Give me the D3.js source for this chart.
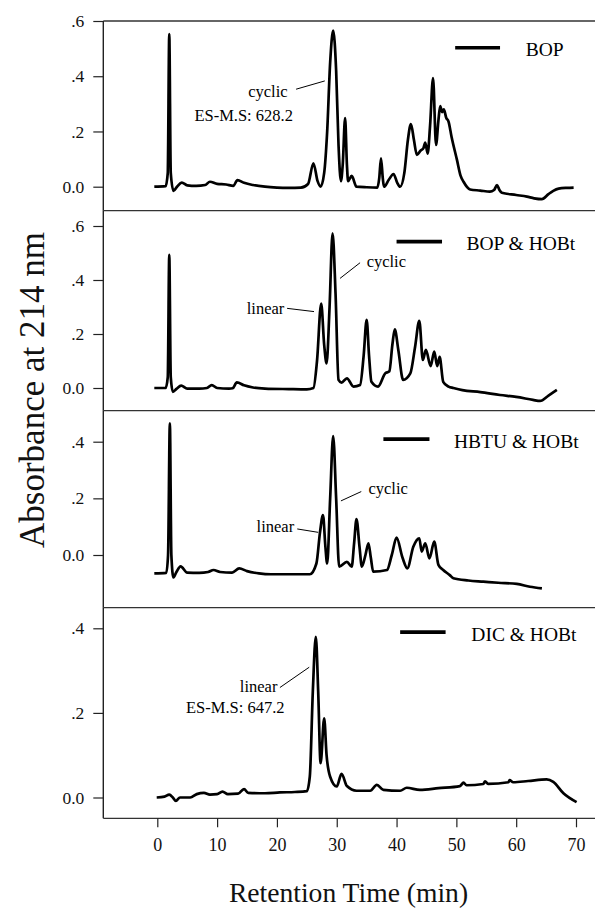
<!DOCTYPE html>
<html>
<head>
<meta charset="utf-8">
<script src="https://cdn.jsdelivr.net/npm/d3@7"></script>
<style>
  body { margin: 0; background: #fff; }
  svg text { font-family: "Liberation Serif", "Times New Roman", serif; }
</style>
</head>
<body>
<div id="chart"></div>
<script>
var svgWidth = 595;
var svgHeight = 908;

// Retention time ticks (min)
var timeTicks = [0, 10, 20, 30, 40, 50, 60, 70];

// Legend names, one per panel
var panelNames = ["BOP", "BOP & HOBt", "HBTU & HOBt", "DIC & HOBt"];

// Absorbance ticks per panel
var absTicks = [
    [0, 0.2, 0.4, 0.6],
    [0, 0.2, 0.4, 0.6],
    [0, 0.2, 0.4],
    [0, 0.2, 0.4]
];

// Traces: [time (min), absorbance]
var bopTrace = [
    [-0.5, 0], [1.4, 0.002], [1.75, 0.05], [2.0, 0.553], [2.25, 0.05], [2.7, -0.015], [3.3, 0.0],
    [4.1, 0.015], [5.0, 0.005], [6.5, 0.003], [8.0, 0.006], [8.8, 0.018], [10, 0.01], [11.5, 0.008],
    [12.7, 0.003], [13.4, 0.024], [14.5, 0.014], [16, 0.006], [18, 0.0], [20, -0.003], [22, -0.004],
    [24, -0.003], [25.2, 0.01], [26.1, 0.085], [26.8, 0.02], [27.3, 0.0], [27.9, 0.05], [28.4, 0.2],
    [28.9, 0.45], [29.4, 0.565], [29.9, 0.42], [30.3, 0.15], [30.7, 0.02], [31.0, 0.08], [31.4, 0.248],
    [31.7, 0.08], [31.9, 0.02], [32.5, 0.039], [33.3, 0.0], [35, -0.002], [36.8, -0.003], [37.1, 0.03],
    [37.4, 0.103], [37.7, 0.03], [37.9, 0.0], [38.7, 0.025], [39.5, 0.046], [40.1, 0.015], [40.6, 0.0],
    [41.3, 0.05], [41.9, 0.17], [42.4, 0.227], [42.9, 0.17], [43.4, 0.115], [44.0, 0.13], [44.5, 0.14],
    [44.8, 0.16], [45.2, 0.12], [45.6, 0.22], [46.1, 0.393], [46.6, 0.151], [47.0, 0.24], [47.3, 0.292],
    [47.6, 0.27], [47.9, 0.28], [48.3, 0.25], [48.7, 0.235], [49.2, 0.18], [50.1, 0.097], [50.7, 0.04],
    [51.2, 0.018], [52.3, -0.01], [54, -0.014], [55.6, -0.018], [56.3, -0.012], [56.8, 0.006],
    [57.2, -0.012], [57.6, -0.022], [60, -0.03], [61.8, -0.036], [63, -0.042], [64.3, -0.045],
    [65.4, -0.027], [66.2, -0.015], [67.1, -0.007], [68.5, -0.004], [69.6, -0.003]
];

var bopHobtTrace = [
    [-0.5, 0], [1.4, 0.0], [1.75, 0.04], [2.0, 0.493], [2.25, 0.04], [2.6, -0.014], [3.2, -0.003],
    [4.0, 0.009], [5, -0.002], [7, -0.002], [8.3, 0.0], [9.1, 0.011], [10, 0.0], [12, -0.002],
    [12.6, -0.001], [13.3, 0.021], [14.5, 0.01], [16, 0.002], [18, -0.002], [22, -0.004], [25, -0.005],
    [26.1, 0.0], [26.7, 0.1], [27.4, 0.313], [27.9, 0.16], [28.3, 0.091], [28.8, 0.3], [29.3, 0.573],
    [29.8, 0.35], [30.3, 0.03], [30.8, 0.02], [31.7, 0.036], [32.8, 0.005], [33.9, 0.011], [34.5, 0.12],
    [35.0, 0.252], [35.4, 0.12], [35.8, 0.023], [36.9, 0.005], [38.1, 0.054], [38.8, 0.062], [39.3, 0.16],
    [39.7, 0.217], [40.3, 0.14], [41.1, 0.03], [42.3, 0.054], [43.1, 0.153], [43.8, 0.249], [44.4, 0.104],
    [44.9, 0.141], [45.7, 0.081], [46.3, 0.135], [46.8, 0.081], [47.2, 0.115], [47.8, 0.023], [48.7, 0.005],
    [49.5, 0.0], [51, -0.008], [54, -0.015], [57.3, -0.026], [60, -0.033], [62.8, -0.044], [64, -0.048],
    [65.4, -0.028], [66.8, -0.007]
];

var hbtuHobtTrace = [
    [-0.5, -0.065], [1.5, -0.063], [1.8, 0.0], [2.1, 0.465], [2.35, 0.0], [2.7, -0.079], [3.2, -0.06],
    [3.9, -0.04], [5.0, -0.062], [7, -0.063], [8.5, -0.06], [9.4, -0.053], [10.5, -0.06], [12.5, -0.062],
    [13.7, -0.047], [15, -0.057], [17, -0.065], [19, -0.068], [25.5, -0.068], [26.6, -0.03], [27.2, 0.08],
    [27.7, 0.141], [28.1, 0.03], [28.4, -0.03], [28.9, 0.2], [29.4, 0.42], [29.9, 0.2], [30.4, -0.041],
    [31.7, -0.024], [32.5, -0.041], [32.9, 0.04], [33.3, 0.127], [33.8, 0.03], [34.2, -0.041], [34.8, 0.0],
    [35.3, 0.041], [35.7, -0.01], [36.1, -0.059], [38.4, -0.053], [39.2, 0.0], [40.0, 0.061], [41.0, -0.01],
    [41.8, -0.047], [42.8, 0.029], [43.8, 0.059], [44.2, 0.012], [44.8, 0.041], [45.5, -0.012], [46.3, 0.047],
    [47.0, -0.035], [47.8, -0.053], [48.9, -0.071], [49.5, -0.082], [52, -0.09], [54.5, -0.094], [57, -0.098],
    [60.1, -0.102], [62.3, -0.112], [64.3, -0.118]
];

var dicHobtTrace = [
    [-0.1, 0], [1.2, 0.002], [2.0, 0.007], [2.6, 0.0], [3.1, -0.008], [3.8, 0.0], [5.5, 0.0], [6.6, 0.008],
    [7.8, 0.011], [8.8, 0.007], [10, 0.008], [10.9, 0.014], [11.8, 0.008], [13.5, 0.009], [14.5, 0.02],
    [15.2, 0.011], [18, 0.01], [20.5, 0.012], [23, 0.013], [25, 0.015], [25.5, 0.05], [26.0, 0.25],
    [26.5, 0.38], [26.9, 0.25], [27.3, 0.081], [27.9, 0.187], [28.3, 0.1], [28.9, 0.049], [30.0, 0.026],
    [30.8, 0.056], [31.7, 0.027], [33.3, 0.016], [35.6, 0.016], [36.7, 0.03], [37.8, 0.018], [40.6, 0.016],
    [41.7, 0.023], [43.9, 0.018], [47, 0.022], [50.6, 0.027], [51.2, 0.035], [51.7, 0.029], [54.5, 0.032],
    [54.8, 0.038], [55.3, 0.032], [58.7, 0.036], [58.9, 0.041], [59.5, 0.036], [62, 0.039], [65.1, 0.043],
    [66.2, 0.037], [67.9, 0.01], [70.1, -0.011]
];

var traces = [bopTrace, bopHobtTrace, hbtuHobtTrace, dicHobtTrace];

// Peak annotations: text lines and leader positions (data coordinates)
var notes = [
    [{ text: ["cyclic", "ES-M.S: 628.2"], at: [[15.2, 0.326], [6.2, 0.239]], lead: [[23.2, 0.353], [28.0, 0.383]] }],
    [{ text: ["linear"], at: [[14.95, 0.273]], lead: [[21.7, 0.295], [26.2, 0.283]] },
     { text: ["cyclic"], at: [[35.0, 0.449]], lead: [[30.55, 0.406], [33.9, 0.464]] }],
    [{ text: ["linear"], at: [[16.6, 0.082]], lead: [[23.4, 0.092], [26.9, 0.080]] },
     { text: ["cyclic"], at: [[35.3, 0.214]], lead: [[30.7, 0.191], [34.1, 0.224]] }],
    [{ text: ["linear", "ES-M.S: 647.2"], at: [[13.8, 0.25], [4.8, 0.199]], lead: [[20.5, 0.26], [25.4, 0.308]] }]
];

// Legend placement per panel (data coordinates)
var legendPos = [
    { x0: 49.8, x1: 57.3, ly: 0.503, tx: 61.6, ty: 0.474 },
    { x0: 40.0, x1: 47.6, ly: 0.542, tx: 51.7, ty: 0.511 },
    { x0: 37.8, x1: 45.5, ly: 0.409, tx: 49.6, ty: 0.379 },
    { x0: 40.6, x1: 48.2, ly: 0.391, tx: 52.5, ty: 0.370 }
];

// Panel geometry: frame top/bottom and where 0 and the top tick sit
var panelBox = [
    { top: 21, bottom: 210.7, zeroY: 186.7, maxVal: 0.6, maxY: 21 },
    { top: 210.7, bottom: 410.7, zeroY: 388, maxVal: 0.6, maxY: 226 },
    { top: 410.7, bottom: 607.7, zeroY: 555, maxVal: 0.4, maxY: 441.7 },
    { top: 607.7, bottom: 818.3, zeroY: 797.5, maxVal: 0.4, maxY: 628.3 }
];

var plotLeft = 103.3;
var plotRight = 595;

var svg = d3.select("#chart")
    .append("svg")
    .attr("width", svgWidth)
    .attr("height", svgHeight);

var xScale = d3.scaleLinear().domain([0, 70]).range([157.3, 576]);

function absFormat(v) {
    if (v === 0) return "0.0";
    return "." + Math.round(v * 10);
}

panelBox.forEach(function (box, i) {
    var yScale = d3.scaleLinear()
        .domain([0, box.maxVal])
        .range([box.zeroY, box.maxY]);

    var g = svg.append("g").attr("class", "panel");

    // frame: top line and left axis line
    g.append("line")
        .attr("x1", plotLeft).attr("x2", plotRight)
        .attr("y1", box.top).attr("y2", box.top)
        .attr("stroke", "#333").attr("stroke-width", 1.3);
    g.append("line")
        .attr("x1", plotLeft).attr("x2", plotLeft)
        .attr("y1", box.top).attr("y2", box.bottom)
        .attr("stroke", "#222").attr("stroke-width", 1.4);

    // y axis
    var yAxis = d3.axisLeft(yScale)
        .tickValues(absTicks[i])
        .tickFormat(absFormat)
        .tickSize(10)
        .tickPadding(9);
    var ya = g.append("g")
        .attr("transform", "translate(" + plotLeft + ",0)")
        .call(yAxis);
    ya.select(".domain").remove();
    ya.selectAll("line").attr("stroke", "#222").attr("stroke-width", 1.2);
    ya.selectAll("text")
        .attr("font-size", 17.5)
        .attr("fill", "#111");

    // trace
    var line = d3.line()
        .x(function (d) { return xScale(d[0]); })
        .y(function (d) { return yScale(d[1]); })
        .curve(d3.curveMonotoneX);
    g.append("path")
        .datum(traces[i])
        .attr("d", line)
        .attr("fill", "none")
        .attr("stroke", "#000")
        .attr("stroke-width", 2.7)
        .attr("stroke-linejoin", "round");

    // legend
    var lg = legendPos[i];
    g.append("line")
        .attr("x1", xScale(lg.x0)).attr("x2", xScale(lg.x1))
        .attr("y1", yScale(lg.ly)).attr("y2", yScale(lg.ly))
        .attr("stroke", "#000").attr("stroke-width", 3.6);
    g.append("text")
        .attr("x", xScale(lg.tx))
        .attr("y", yScale(lg.ty))
        .attr("font-size", 19.5)
        .attr("fill", "#000")
        .text(panelNames[i]);

    // annotations
    notes[i].forEach(function (n) {
        n.text.forEach(function (t, k) {
            g.append("text")
                .attr("x", xScale(n.at[k][0]))
                .attr("y", yScale(n.at[k][1]))
                .attr("font-size", 16.5)
                .attr("fill", "#000")
                .text(t);
        });
        g.append("line")
            .attr("x1", xScale(n.lead[0][0])).attr("y1", yScale(n.lead[0][1]))
            .attr("x2", xScale(n.lead[1][0])).attr("y2", yScale(n.lead[1][1]))
            .attr("stroke", "#000").attr("stroke-width", 1);
    });
});

// bottom frame line + x axis
var lastBox = panelBox[panelBox.length - 1];
svg.append("line")
    .attr("x1", plotLeft).attr("x2", plotRight)
    .attr("y1", lastBox.bottom).attr("y2", lastBox.bottom)
    .attr("stroke", "#333").attr("stroke-width", 1.3);

var xAxis = d3.axisBottom(xScale)
    .tickValues(timeTicks)
    .tickSize(9)
    .tickPadding(10.5);
var xa = svg.append("g")
    .attr("transform", "translate(0," + lastBox.bottom + ")")
    .call(xAxis);
xa.select(".domain").remove();
xa.selectAll("line").attr("stroke", "#222").attr("stroke-width", 1.2);
xa.selectAll("text")
    .attr("font-size", 18)
    .attr("fill", "#111");

// axis titles
svg.append("text")
    .attr("x", 348.5)
    .attr("y", 902)
    .attr("text-anchor", "middle")
    .attr("font-size", 27.6)
    .attr("fill", "#111")
    .text("Retention Time (min)");

svg.append("text")
    .attr("transform", "translate(44,390)rotate(-90)")
    .attr("text-anchor", "middle")
    .attr("font-size", 35)
    .attr("fill", "#111")
    .text("Absorbance at 214 nm");
</script>
</body>
</html>
